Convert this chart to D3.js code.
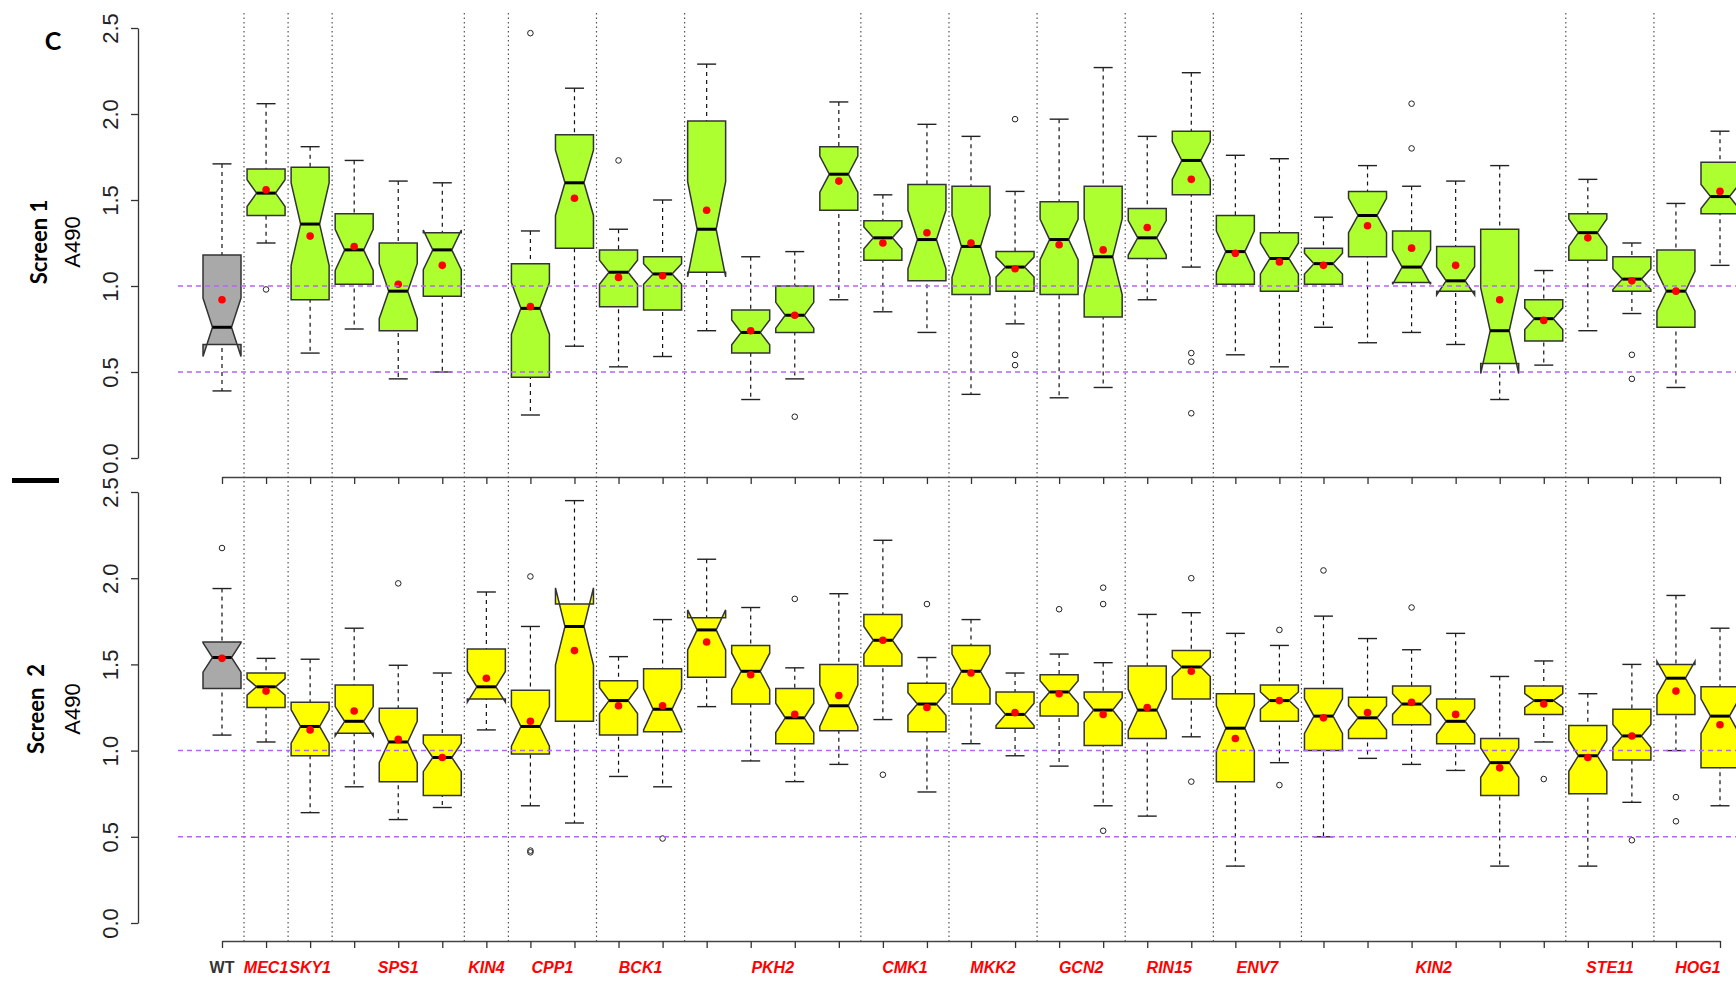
<!DOCTYPE html>
<html lang="en">
<head>
<meta charset="utf-8">
<title>Screen 1 / Screen 2 A490</title>
<script src="https://d3js.org/d3.v7.min.js"></script>
<style>
  body { margin: 0; background: #fff; }
  svg { display: block; }
</style>
</head>
<body>
<script>
// group labels under the x axis and how many boxes each group spans
var groupLabels = ["WT","MEC1","SKY1","SPS1","KIN4","CPP1","BCK1","PKH2","CMK1","MKK2","GCN2","RIN15","ENV7","KIN2","STE11","HOG1"];
var groupSizes  = [1,1,1,3,1,2,2,4,2,2,2,2,2,6,2,2];
var yTicks = [0, 0.5, 1.0, 1.5, 2.0, 2.5];
var refLines = [1.0, 0.5];

// Screen 1 (null = no data for that strain)
var s1Lo    = [0.39,1.25,0.61,0.75,0.46,0.50,null,0.25,0.65,0.53,0.59,0.74,0.34,0.46,0.92,0.85,0.73,0.37,0.78,0.35,0.41,0.92,1.11,0.60,0.53,0.76,0.67,0.73,0.66,0.34,0.54,0.74,0.84,0.41,1.12];
var s1Q1    = [0.66,1.41,0.92,1.01,0.74,0.94,null,0.47,1.22,0.88,0.86,1.08,0.61,0.73,1.44,1.15,1.03,0.95,0.97,0.95,0.82,1.16,1.53,1.01,0.97,1.01,1.17,1.02,0.97,0.55,0.68,1.15,0.97,0.76,1.42];
var s1Med   = [0.76,1.54,1.36,1.21,0.97,1.21,null,0.87,1.60,1.08,1.07,1.33,0.73,0.83,1.65,1.28,1.27,1.23,1.11,1.27,1.17,1.28,1.73,1.20,1.16,1.13,1.41,1.11,1.03,0.74,0.81,1.31,1.04,0.97,1.52];
var s1Q3    = [1.18,1.68,1.69,1.42,1.25,1.31,null,1.13,1.88,1.21,1.17,1.96,0.86,1.00,1.81,1.38,1.59,1.58,1.20,1.49,1.58,1.45,1.90,1.41,1.31,1.22,1.55,1.32,1.23,1.33,0.92,1.42,1.17,1.21,1.72];
var s1Hi    = [1.71,2.06,1.81,1.73,1.61,1.60,null,1.32,2.15,1.33,1.50,2.29,1.17,1.20,2.07,1.53,1.94,1.87,1.55,1.97,2.27,1.87,2.24,1.76,1.74,1.40,1.70,1.58,1.61,1.70,1.09,1.62,1.25,1.48,1.90];
var s1Notch = [0.17,0.078,0.24,0.12,0.16,0.115,null,0.15,0.19,0.07,0.06,0.277,0.072,0.075,0.105,0.063,0.17,0.18,0.058,0.117,0.22,0.10,0.11,0.12,0.09,0.06,0.10,0.10,0.082,0.249,0.063,0.08,0.06,0.115,0.07];
var s1Mean  = [0.92,1.56,1.29,1.23,1.01,1.12,null,0.88,1.51,1.05,1.06,1.44,0.74,0.83,1.61,1.25,1.31,1.25,1.10,1.24,1.21,1.34,1.62,1.19,1.14,1.12,1.35,1.22,1.12,0.92,0.80,1.28,1.03,0.97,1.55];
var s1Out   = [[],[0.98],[],[],[],[],[],[2.47],[],[1.73],[],[],[],[0.24],[],[],[],[],[1.97,0.60,0.54],[],[],[],[0.61,0.56,0.26],[],[],[],[],[2.06,1.80],[],[],[],[],[0.60,0.46],[],[]];

// Screen 2
var s2Lo    = [1.09,1.05,0.64,0.79,0.60,0.67,1.12,0.68,0.58,0.85,0.79,1.255,0.94,0.82,0.92,1.18,0.76,1.04,0.97,0.91,0.68,0.62,1.08,0.33,0.93,0.50,0.955,0.92,0.885,0.33,1.05,0.33,0.70,1.00,0.68];
var s2Q1    = [1.36,1.25,0.97,1.10,0.82,0.74,1.30,0.98,1.17,1.09,1.11,1.425,1.27,1.04,1.115,1.49,1.11,1.27,1.13,1.20,1.03,1.07,1.30,0.82,1.17,1.00,1.07,1.15,1.04,0.74,1.21,0.75,0.945,1.21,0.90];
var s2Med   = [1.54,1.37,1.14,1.17,1.05,0.96,1.37,1.14,1.72,1.29,1.24,1.70,1.46,1.19,1.26,1.64,1.27,1.46,1.21,1.34,1.235,1.235,1.485,1.13,1.29,1.20,1.19,1.27,1.17,0.93,1.29,0.97,1.085,1.42,1.20];
var s2Q3    = [1.63,1.45,1.28,1.38,1.245,1.09,1.59,1.35,1.85,1.405,1.475,1.77,1.61,1.36,1.50,1.79,1.39,1.61,1.34,1.44,1.34,1.49,1.58,1.33,1.38,1.36,1.31,1.375,1.30,1.07,1.375,1.145,1.24,1.50,1.37];
var s2Hi    = [1.94,1.535,1.53,1.71,1.495,1.45,1.92,1.72,2.45,1.545,1.76,2.11,1.83,1.48,1.91,2.22,1.54,1.76,1.45,1.56,1.51,1.79,1.80,1.68,1.61,1.78,1.65,1.585,1.68,1.43,1.52,1.33,1.50,1.90,1.71];
var s2Notch = [0.085,0.048,0.097,0.085,0.12,0.082,0.089,0.115,0.224,0.075,0.12,0.116,0.105,0.085,0.12,0.08,0.065,0.10,0.065,0.065,0.07,0.12,0.055,0.13,0.05,0.10,0.07,0.06,0.075,0.085,0.04,0.09,0.067,0.098,0.10];
var s2Mean  = [1.535,1.345,1.12,1.23,1.065,0.96,1.42,1.17,1.58,1.26,1.26,1.63,1.44,1.21,1.32,1.64,1.25,1.45,1.22,1.33,1.21,1.25,1.46,1.07,1.29,1.19,1.22,1.28,1.21,0.90,1.27,0.96,1.085,1.345,1.15];
var s2Out   = [[2.175],[],[],[],[1.97],[],[],[2.01,0.42,0.41],[],[],[0.49],[],[],[1.88],[],[0.86],[1.85],[],[],[1.82],[1.945,1.85,0.535],[],[2.00,0.82],[],[1.70,0.80],[2.045],[],[1.83],[],[],[0.835],[],[0.48],[0.73,0.59],[]];

var w = 1736, h = 985;
var nBox = s1Med.length;

var svg = d3.select("body").append("svg")
    .attr("width", w)
    .attr("height", h);

var xScale = d3.scalePoint()
    .domain(d3.range(nBox))
    .range([222, 1720]);

// group positions and separators
var groups = [];
var start = 0;
groupSizes.forEach(function(n, i) {
    var end = start + n - 1;
    groups.push({label: groupLabels[i], start: start, end: end,
                 cx: (xScale(start) + xScale(end)) / 2});
    start = end + 1;
});
var seps = groups.slice(0, -1).map(function(g) {
    return (xScale(g.end) + xScale(g.end + 1)) / 2;
});

var panels = [
    {title: "Screen 1", top: 28, bottom: 458, axisY: 477, fill: "#adff2f",
     lo: s1Lo, q1: s1Q1, med: s1Med, q3: s1Q3, hi: s1Hi, notch: s1Notch, mean: s1Mean, out: s1Out,
     titleX: 47, unitX: 80, titleY: 242},
    {title: "Screen  2", top: 492, bottom: 923, axisY: 941, fill: "#ffff00",
     lo: s2Lo, q1: s2Q1, med: s2Med, q3: s2Q3, hi: s2Hi, notch: s2Notch, mean: s2Mean, out: s2Out,
     titleX: 44, unitX: 80, titleY: 709}
];

// dotted group separators running through both panels
svg.append("g").selectAll("line")
    .data(seps)
    .enter()
    .append("line")
    .attr("x1", function(d) { return d; })
    .attr("x2", function(d) { return d; })
    .attr("y1", 13)
    .attr("y2", 941)
    .attr("stroke", "#555")
    .attr("stroke-width", 1.2)
    .attr("stroke-dasharray", "1.5,3");

var bw = 19; // half box width

panels.forEach(function(p) {
    var yScale = d3.scaleLinear().domain([0, 2.5]).range([p.bottom, p.top]);
    var g = svg.append("g");

    // y axis, labels turned like R's las=0
    var yAxis = d3.axisLeft(yScale)
        .tickValues(yTicks)
        .tickFormat(d3.format(".1f"))
        .tickSize(7)
        .tickSizeOuter(0);
    var ya = g.append("g")
        .attr("transform", "translate(138,0)")
        .call(yAxis);
    ya.select(".domain").attr("stroke", "#333").attr("stroke-width", 1.3);
    ya.selectAll(".tick line").attr("stroke", "#333").attr("stroke-width", 1.3);
    ya.selectAll(".tick text")
        .attr("x", null).attr("dy", null)
        .attr("transform", "translate(-20,0) rotate(-90)")
        .attr("text-anchor", "middle")
        .attr("font-family", "Liberation Sans, Arial, sans-serif")
        .attr("font-size", "22px")
        .attr("fill", "#222");

    // x axis (ticks only)
    var xAxis = d3.axisBottom(xScale).tickSize(7).tickSizeOuter(0).tickFormat("");
    var xa = g.append("g")
        .attr("transform", "translate(0," + p.axisY + ")")
        .call(xAxis);
    xa.select(".domain").attr("stroke", "#444").attr("stroke-width", 1.5);
    xa.selectAll(".tick line").attr("stroke", "#333").attr("stroke-width", 1.3);

    // axis titles
    g.append("text")
        .attr("transform", "translate(" + p.titleX + "," + p.titleY + ") rotate(-90)")
        .attr("text-anchor", "middle")
        .attr("font-family", "Lato, 'Open Sans', sans-serif")
        .attr("font-weight", "bold")
        .attr("font-size", "22px")
        .style("white-space", "pre")
        .text(p.title);
    g.append("text")
        .attr("transform", "translate(" + p.unitX + "," + p.titleY + ") rotate(-90)")
        .attr("text-anchor", "middle")
        .attr("font-family", "Liberation Sans, Arial, sans-serif")
        .attr("font-size", "22px")
        .text("A490");

    var boxes = d3.range(nBox).filter(function(i) { return p.med[i] !== null; });

    // whiskers
    g.append("g").selectAll("line")
        .data(boxes)
        .enter()
        .append("line")
        .attr("x1", function(i) { return xScale(i); })
        .attr("x2", function(i) { return xScale(i); })
        .attr("y1", function(i) { return yScale(p.hi[i]); })
        .attr("y2", function(i) { return yScale(p.lo[i]); })
        .attr("stroke", "#111")
        .attr("stroke-width", 1.2)
        .attr("stroke-dasharray", "4,4");

    // staples
    ["hi", "lo"].forEach(function(k) {
        g.append("g").selectAll("line")
            .data(boxes)
            .enter()
            .append("line")
            .attr("x1", function(i) { return xScale(i) - bw / 2; })
            .attr("x2", function(i) { return xScale(i) + bw / 2; })
            .attr("y1", function(i) { return yScale(p[k][i]); })
            .attr("y2", function(i) { return yScale(p[k][i]); })
            .attr("stroke", "#222")
            .attr("stroke-width", 1.4);
    });

    // notched boxes (R style: notch may fold outside the hinges)
    g.append("g").selectAll("path")
        .data(boxes)
        .enter()
        .append("path")
        .attr("d", function(i) {
            var cx = xScale(i);
            var nlo = p.med[i] - p.notch[i], nhi = p.med[i] + p.notch[i];
            var pts = [
                [cx - bw, p.q1[i]], [cx - bw, nlo], [cx - bw / 2, p.med[i]], [cx - bw, nhi], [cx - bw, p.q3[i]],
                [cx + bw, p.q3[i]], [cx + bw, nhi], [cx + bw / 2, p.med[i]], [cx + bw, nlo], [cx + bw, p.q1[i]]
            ];
            return d3.line()(pts.map(function(q) { return [q[0], yScale(q[1])]; })) + "Z";
        })
        .attr("fill", function(i) { return i === 0 ? "#a9a9a9" : p.fill; })
        .attr("stroke", "#333")
        .attr("stroke-width", 1.5)
        .attr("stroke-linejoin", "miter");

    // medians
    g.append("g").selectAll("line")
        .data(boxes)
        .enter()
        .append("line")
        .attr("x1", function(i) { return xScale(i) - bw / 2; })
        .attr("x2", function(i) { return xScale(i) + bw / 2; })
        .attr("y1", function(i) { return yScale(p.med[i]); })
        .attr("y2", function(i) { return yScale(p.med[i]); })
        .attr("stroke", "#000")
        .attr("stroke-width", 3);

    // outliers
    var outPts = [];
    boxes.forEach(function(i) {
        p.out[i].forEach(function(v) { outPts.push([i, v]); });
    });
    g.append("g").selectAll("circle")
        .data(outPts)
        .enter()
        .append("circle")
        .attr("cx", function(d) { return xScale(d[0]); })
        .attr("cy", function(d) { return yScale(d[1]); })
        .attr("r", 2.8)
        .attr("fill", "none")
        .attr("stroke", "#222")
        .attr("stroke-width", 1);

    // means
    g.append("g").selectAll("circle")
        .data(boxes)
        .enter()
        .append("circle")
        .attr("cx", function(i) { return xScale(i); })
        .attr("cy", function(i) { return yScale(p.mean[i]); })
        .attr("r", 3.8)
        .attr("fill", "#ff0000");

    // reference lines
    g.append("g").selectAll("line")
        .data(refLines)
        .enter()
        .append("line")
        .attr("x1", 178)
        .attr("x2", w)
        .attr("y1", function(d) { return yScale(d); })
        .attr("y2", function(d) { return yScale(d); })
        .attr("stroke", "#b266f5")
        .attr("stroke-width", 1.5)
        .attr("stroke-dasharray", "5,4");
});

// strain labels
svg.append("g").selectAll("text")
    .data(groups)
    .enter()
    .append("text")
    .attr("x", function(d) { return d.cx; })
    .attr("y", 973)
    .attr("text-anchor", "middle")
    .attr("font-family", "Liberation Sans, Arial, sans-serif")
    .attr("font-size", "16px")
    .attr("font-weight", "bold")
    .attr("font-style", function(d) { return d.label === "WT" ? "normal" : "italic"; })
    .attr("fill", function(d) { return d.label === "WT" ? "#333" : "#ff0000"; })
    .text(function(d) { return d.label; });

// panel letter and the bar between panels
svg.append("text")
    .attr("x", 53)
    .attr("y", 50)
    .attr("text-anchor", "middle")
    .attr("font-family", "Lato, 'Open Sans', sans-serif")
    .attr("font-weight", "bold")
    .attr("font-size", "25px")
    .text("C");

svg.append("rect")
    .attr("x", 12)
    .attr("y", 478)
    .attr("width", 47)
    .attr("height", 5)
    .attr("fill", "#000");
</script>
</body>
</html>
